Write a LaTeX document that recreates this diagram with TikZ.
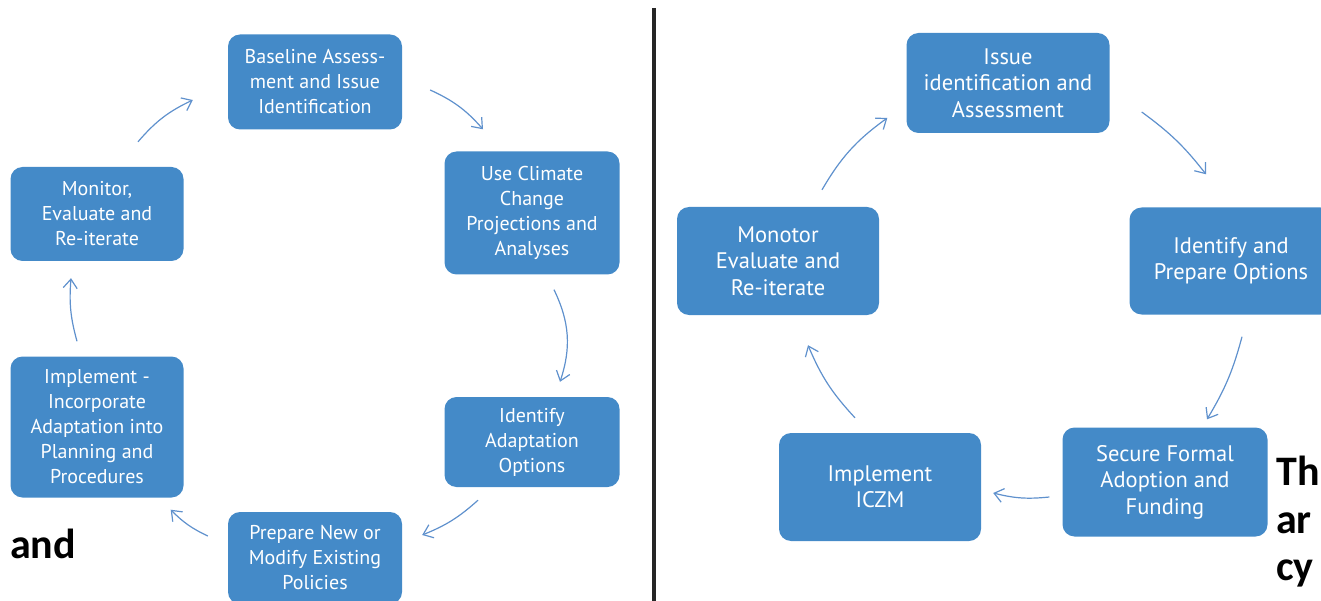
\documentclass[tikz,border=0pt]{standalone}
\usepackage{fontspec}
\setmainfont{PT Sans}
\newfontfamily\notefont{Carlito}
\usetikzlibrary{arrows.meta}
\usetikzlibrary{calc}

\definecolor{stageblue}{RGB}{68,138,200}
\definecolor{flowblue}{RGB}{95,145,205}

\begin{document}
\begin{tikzpicture}[x=1pt, y=-1pt,
	every node/.style={inner sep=0pt},
	stage/.style={
		fill=stageblue,
		text=white,
		rounded corners=12pt,
		align=center,
		font=\fontsize{20}{25}\selectfont
	},
	bigstage/.style={stage, font=\fontsize{22.5}{26.5}\selectfont},
	flow/.style={draw=flowblue, line width=1.2pt, -{Straight Barb[length=9pt,width=14pt]}},
	note/.style={font=\notefont\bfseries\fontsize{42}{48}\selectfont, anchor=base west}
]
\useasboundingbox (0,0) rectangle (1321,601);
\clip (0,0) rectangle (1321,601);

% left cycle
\node[stage, minimum width=174pt, minimum height=95pt] (base) at (315,82) {Baseline Assess-\\ment and Issue\\Identification};
\node[stage, minimum width=175pt, minimum height=123pt] (clim) at (532,213) {Use Climate\\Change\\Projections and\\Analyses};
\node[stage, minimum width=175pt, minimum height=90pt] (ident) at (532,442) {Identify\\Adaptation\\Options};
\node[stage, minimum width=174pt, minimum height=92pt] (prep) at (315,558) {Prepare New or\\Modify Existing\\Policies};
\node[stage, minimum width=173pt, minimum height=141pt] (impl) at (97,427) {Implement -\\Incorporate\\Adaptation into\\Planning and\\Procedures};
\node[stage, minimum width=173pt, minimum height=94pt] (mon) at (97,214) {Monitor,\\Evaluate and\\Re-iterate};

\draw[flow] ($(mon.north)+(41,-25)$) to[bend left=12] ($(base.west)+(-35,18)$);
\draw[flow] ($(base.east)+(28,8)$) to[bend left=12] ($(clim.north)+(-49,-22)$);
\draw[flow] ($(clim.south)+(22,15)$) to[bend left=22] ($(ident.north)+(28,-15)$);
\draw[flow] ($(ident.south)+(-54,13)$) to[bend left=10] ($(prep.east)+(20,-23)$);
\draw[flow] ($(prep.west)+(-20,-22)$) to[bend left=10] ($(impl.south east)+(-13,12)$);
\draw[flow] ($(impl.north)+(-20,-15)$) to[bend left=10] ($(mon.south)+(-26,17)$);

% divider
\draw[line width=4pt, black!85] (654,8) -- (654,601);

% right cycle
\node[bigstage, minimum width=203pt, minimum height=100pt] (issue) at (1008,83) {Issue\\identification and\\Assessment};
\node[bigstage, minimum width=203pt, minimum height=107pt] (opts) at (1231,261) {Identify and\\Prepare Options};
\node[bigstage, minimum width=205pt, minimum height=109pt] (secure) at (1165,482) {Secure Formal\\Adoption and\\Funding};
\node[bigstage, minimum width=202pt, minimum height=108pt] (iczm) at (880,487) {Implement\\ICZM};
\node[bigstage, minimum width=202pt, minimum height=108pt] (mono) at (778,261) {Monotor\\Evaluate and\\Re-iterate};

\draw[flow] ($(mono.north)+(44,-17)$) to[bend left=12] ($(issue.west)+(-19,35)$);
\draw[flow] ($(issue.east)+(32,29)$) to[bend left=8] ($(opts.north)+(-25,-33)$);
\draw[flow] ($(opts.south)+(11,22)$) to[bend left=8] ($(secure.north)+(42,-8)$);
\draw[flow] ($(secure.west)+(-13,15)$) to[bend left=10] ($(iczm.east)+(12,6)$);
\draw[flow] ($(iczm.north)+(-25,-15)$) to[bend left=10] ($(mono.south)+(30,30)$);

% bold text at the edges
\node[note] (and) at (10,558) {and};
\node[note] (th) at (1276,485) {Th};
\node[note] (ar) at (1276,533) {ar};
\node[note] (cy) at (1276,580) {cy};
\end{tikzpicture}
\end{document}
